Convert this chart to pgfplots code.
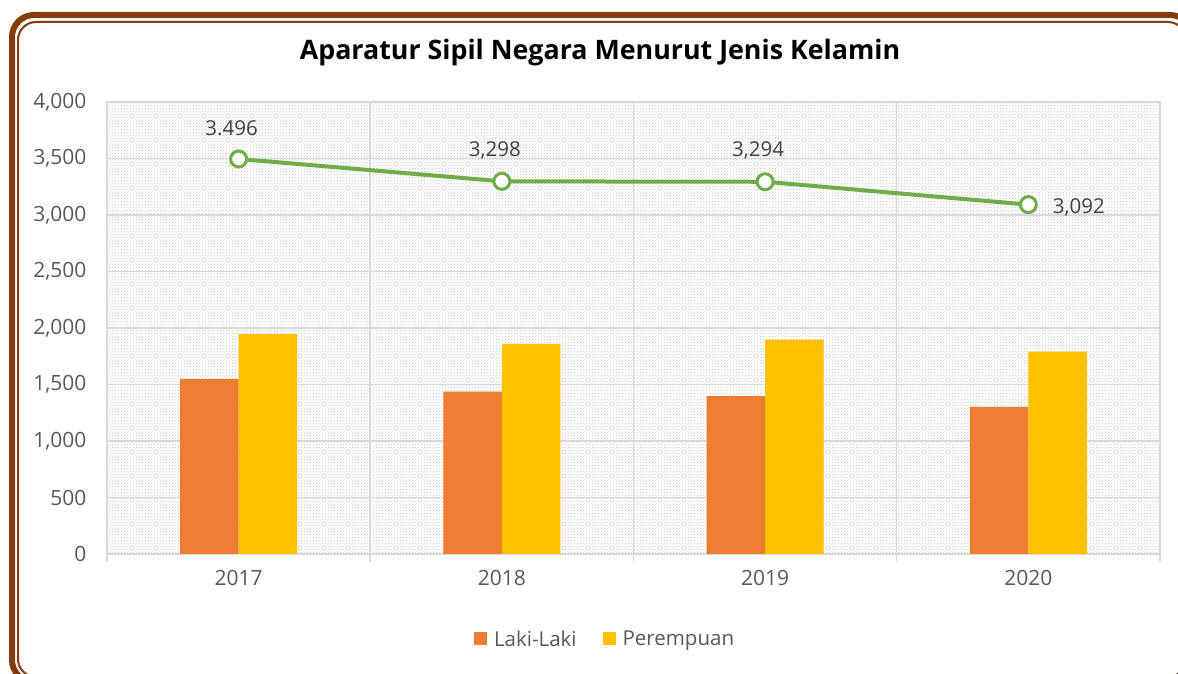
\documentclass[border=0pt]{standalone}
\usepackage{pgfplots}
\pgfplotsset{compat=1.18}
\usepackage{fontspec}
\setmainfont{Open Sans}
\usetikzlibrary{patterns}
\definecolor{brownc}{RGB}{132,60,12}
\definecolor{orangec}{RGB}{237,125,49}
\definecolor{yellowc}{RGB}{255,192,0}
\definecolor{greenc}{RGB}{112,173,71}
\definecolor{gridc}{RGB}{217,217,217}
\definecolor{txt}{RGB}{89,89,89}
\definecolor{txtd}{RGB}{64,64,64}
\begin{document}
\begin{tikzpicture}
\clip[use as bounding box] (0,0) rectangle (1178pt,674pt);
\fill[white] (0,0) rectangle (1178pt,674pt);
\begin{axis}[
  at={(107pt,120pt)}, anchor=south west,
  scale only axis, width=1053pt, height=452pt,
  xmin=-0.5, xmax=3.5, ymin=0, ymax=4000,
  axis background/.style={pattern=crosshatch dots, pattern color=black!22},
  axis line style={gridc, line width=1.5pt},
  xtick={0,1,2,3}, xticklabels={2017,2018,2019,2020},
  minor xtick={-0.5,0.5,1.5,2.5,3.5},
  xminorgrids, minor x grid style={gridc, line width=1.5pt},
  major tick length=0pt, minor tick length=8pt,
  xtick align=outside, xtick pos=bottom, ytick pos=left,
  minor x tick style={gridc, line width=1.5pt},
  ytick={0,500,...,4000},
  ymajorgrids, major grid style={gridc, line width=1.5pt},
  /pgf/number format/.cd, 1000 sep={,}, assume math mode=true,
  /pgfplots/.cd,
  ticklabel style={font=\fontsize{21}{25}\selectfont, text=txt},
  xticklabel style={yshift=-13pt},
  yticklabel style={xshift=-17pt},
  legend style={at={(0.473,-0.188)}, anchor=center, draw=none, fill=none,
    legend columns=2, font=\fontsize{20.5}{24}\selectfont, text=txt,
    /tikz/every even column/.append style={column sep=24pt}},
]
\addplot[ybar, bar width=58.5pt, bar shift=-29.25pt, fill=orangec, draw=none,
  legend image code/.code={\fill[orangec] (0pt,-6.5pt) rectangle (13pt,6.5pt);\path (0pt,0pt) -- (18pt,0pt);}]
  coordinates {(0,1550) (1,1438) (2,1397) (3,1302)};
\addplot[ybar, bar width=58.5pt, bar shift=29.25pt, fill=yellowc, draw=none,
  legend image code/.code={\fill[yellowc] (0pt,-6.5pt) rectangle (13pt,6.5pt);\path (0pt,0pt) -- (18pt,0pt);}]
  coordinates {(0,1946) (1,1860) (2,1897) (3,1790)};
\addplot[greenc, line width=4pt, mark=*, mark size=8pt,
  mark options={fill=white, draw=greenc, line width=3pt},
  point meta=explicit symbolic,
  nodes near coords={\pgfplotspointmeta},
  every node near coord/.append style={anchor=center, yshift=31pt, xshift=-7pt,
    font=\fontsize{20.5}{24}\selectfont, text=txtd},
  forget plot]
  coordinates {(0,3496)[3.496] (1,3298)[3,298] (2,3294)[3,294] (3,3092)[]};
\addplot[draw=none, mark=none,
  point meta=explicit symbolic,
  nodes near coords={\pgfplotspointmeta},
  every node near coord/.append style={anchor=west, xshift=21pt, yshift=-3pt,
    font=\fontsize{20.5}{24}\selectfont, text=txtd},
  forget plot]
  coordinates {(3,3092)[3,092]};
\legend{Laki-Laki,Perempuan}
\end{axis}
\node[font=\bfseries\fontsize{26.8}{30}\selectfont] at (600pt,621pt) {Aparatur Sipil Negara Menurut Jenis Kelamin};
\draw[brownc, line width=6pt, rounded corners=22pt] (12pt,659pt) rectangle (1192pt,-8pt);
\draw[brownc, line width=2pt, rounded corners=18pt] (18pt,652pt) rectangle (1186pt,-3pt);
\end{tikzpicture}
\end{document}
